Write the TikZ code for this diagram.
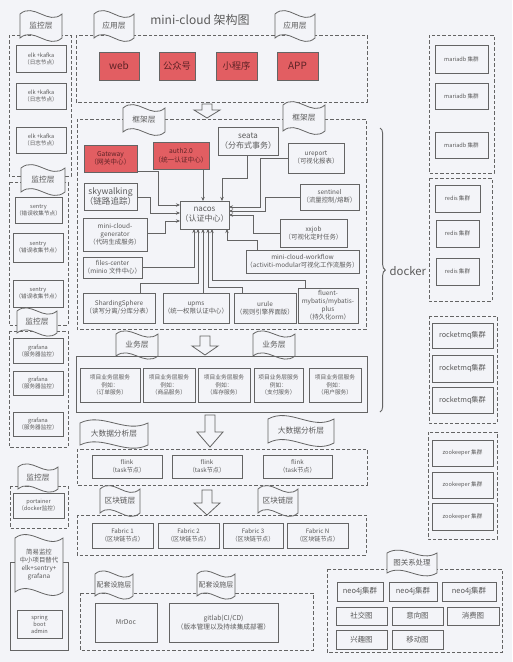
\documentclass[tikz,border=0pt]{standalone}
\usepackage{fontspec}
\setmainfont{Noto Sans CJK SC}
\usetikzlibrary{arrows.meta,decorations.pathreplacing}
\definecolor{bg}{RGB}{243,244,248}
\definecolor{ln}{RGB}{100,100,100}
\definecolor{tx}{RGB}{90,90,90}
\definecolor{redf}{RGB}{226,94,98}
\definecolor{redt}{RGB}{95,35,38}
\newcommand\fsz[1]{\fontsize{#1}{\dimexpr#1pt*5/4\relax}\selectfont}
\tikzset{
 bx/.style={draw=ln, line width=0.7pt, fill=bg, text=tx, align=center, inner sep=0pt, outer sep=0pt},
 rbx/.style={bx, fill=redf, text=redt},
 dbx/.style={draw=ln, line width=0.7pt, dash pattern=on 2.4pt off 1.6pt},
 arr/.style={draw=ln, line width=0.6pt, -{Stealth[length=3pt,width=2.6pt]}},
 fl/.style={draw=ln, line width=0.6pt, fill=bg},
 f1/.style={font=\fsz{4.2}},
 f2/.style={font=\fsz{4.8}},
 f3/.style={font=\fsz{5.8}},
}
\newcommand\mybox[7]{%
 \pgfmathsetmacro\mcx{(#2+#4)/2}\pgfmathsetmacro\mcy{(#3+#5)/2}%
 \pgfmathsetmacro\mww{(#4-#2)*0.75}\pgfmathsetmacro\mhh{(#5-#3)*0.75}%
 \node[#6,minimum width=\mww pt,minimum height=\mhh pt] (#1) at (\mcx,\mcy) {#7};}
\newcommand\flag[7]{%
 \pgfmathsetmacro\fxa{#2-#4/2}\pgfmathsetmacro\fxb{#2+#4/2}%
 \pgfmathsetmacro\fya{#3-#5/2}\pgfmathsetmacro\fyb{#3+#5/2}%
 \pgfmathsetmacro\fxc{#2-#4/6}\pgfmathsetmacro\fxd{#2+#4/6}%
 \pgfmathsetmacro\fam{min(#5*0.5,12)}%
 \pgfmathsetmacro\fyau{\fya-\fam}\pgfmathsetmacro\fyad{\fya+\fam}%
 \pgfmathsetmacro\fybu{\fyb-\fam}\pgfmathsetmacro\fybd{\fyb+\fam}%
 \draw[fl] (\fxa,\fya) .. controls (\fxc,\fyau) and (\fxd,\fyad) .. (\fxb,\fya) -- (\fxb,\fyb) .. controls (\fxd,\fybd) and (\fxc,\fybu) .. (\fxa,\fyb) -- cycle;
 \node[text=tx,font=\fsz{#6},align=center,inner sep=0pt] (#1) at (#2,#3) {#7};}
\newcommand\harrow[5]{%
 \pgfmathsetmacro\hl{#2-5}\pgfmathsetmacro\hr{#2+5}%
 \pgfmathsetmacro\hL{#2-13}\pgfmathsetmacro\hR{#2+13}%
 \draw[fl] (\hl,#3) -- (\hr,#3) -- (\hr,#5) -- (\hR,#5) -- (#2,#4) -- (\hL,#5) -- (\hl,#5) -- cycle;
 \coordinate (#1) at (#2,#4);}
\begin{document}
\begin{tikzpicture}[x=0.75pt,y=-0.75pt]
\fill[bg] (0,0) rectangle (512,662);
\useasboundingbox (0,0) rectangle (512,662);

% ---------- title
\node[text=tx,font=\fsz{9}] (title) at (200,20) {mini-cloud 架构图};

% ---------- left column
\draw[dbx] (9,35) rectangle (71,176);
\flag{fA}{41}{26}{42}{24}{5.8}{监控层}
\mybox{elk1}{16}{45}{66}{72}{bx,f1}{elk +kafka\\（日志节点）}
\mybox{elk2}{16}{83}{66}{109}{bx,f1}{elk +kafka\\（日志节点）}
\mybox{elk3}{16}{127}{66}{153}{bx,f1}{elk +kafka\\（日志节点）}

\draw[dbx] (9,182) rectangle (68,325);
\flag{fB}{43}{180}{44}{24}{5.8}{监控层}
\mybox{sen1}{15}{197}{62}{223}{bx,f1}{sentry\\（错误收集节点）}
\mybox{sen2}{13}{233}{63}{262}{bx,f1}{sentry\\（错误收集节点）}
\mybox{sen3}{13}{280}{63}{307}{bx,f1}{sentry\\（错误收集节点）}

\draw[dbx] (9,331) rectangle (68,447);
\flag{fC}{37}{322}{40}{22}{5.8}{监控层}
\mybox{gra1}{13}{338}{63}{363}{bx,f1}{grafana\\（服务器监控）}
\mybox{gra2}{13}{371}{63}{395}{bx,f1}{grafana\\（服务器监控）}
\mybox{gra3}{13}{412}{63}{436}{bx,f1}{grafana\\（服务器监控）}

\draw[dbx] (10,486) rectangle (68,528);
\flag{fD}{38}{478}{40}{22}{5.8}{监控层}
\mybox{port}{13}{493}{64}{518}{bx,f1}{portainer\\（docker监控）}

\draw[ln,line width=0.6pt] (10,562) rectangle (68,650);
\flag{fE}{39}{565}{48}{54}{4.8}{简易监控\\中小项目替代\\elk+sentry+\\grafana}
\mybox{sba}{17}{610}{62}{638}{bx,f1}{spring\\boot\\admin}

% ---------- application layer
\draw[dbx] (76,35) rectangle (367,102);
\flag{fApp1}{114}{26}{40}{24}{5.8}{应用层}
\flag{fApp2}{295}{26}{40}{24}{5.8}{应用层}
\mybox{web}{99}{52}{139}{80}{rbx,font=\fsz{7.5}}{web}
\mybox{gzh}{159}{52}{195}{80}{rbx,font=\fsz{7}}{公众号}
\mybox{xcx}{216}{52}{257}{80}{rbx,font=\fsz{7}}{小程序}
\mybox{app}{277}{52}{318}{80}{rbx,font=\fsz{7.5}}{APP}
\harrow{ha1}{207}{104}{118}{110}

% ---------- framework layer
\draw[dbx] (77,119) rectangle (366,329);
\flag{fFw1}{144}{120}{42}{24}{5.8}{框架层}
\flag{fFw2}{304}{118}{42}{26}{5.8}{框架层}
\mybox{gw}{84}{145}{137}{172}{rbx,font=\fsz{5}}{Gateway\\（网关中心）}
\mybox{auth}{153}{142}{209}{169}{rbx,font=\fsz{5}}{auth2.0\\（统一认证中心）}
\mybox{seata}{218}{127}{278}{155}{bx,font=\fsz{6}}{seata\\（分布式事务）}
\mybox{ureport}{288}{143}{344}{173}{bx,f2}{ureport\\（可视化报表）}
\mybox{sentinel}{300}{184}{359}{210}{bx,f2}{sentinel\\（流量控制/熔断）}
\mybox{xxjob}{280}{219}{347}{247}{bx,f2}{xxjob\\（可视化定时任务）}
\mybox{nacos}{180}{201}{229}{229}{bx,font=\fsz{6}}{nacos\\（认证中心）}
\mybox{sky}{84}{183}{137}{210}{bx,font=\fsz{6.4}}{skywalking\\（链路追踪）}
\mybox{gen}{83}{218}{147}{251}{bx,f2}{mini-cloud-\\generator\\（代码生成服务）}
\mybox{files}{83}{257}{142}{278}{bx,f2}{files-center\\（minio 文件中心）}
\mybox{workflow}{246}{250}{359}{273}{bx,f2}{mini-cloud-workflow\\（activiti-modular可视化工作流服务）}
\mybox{shard}{83}{293}{155}{323}{bx,f2}{ShardingSphere\\（读写分离/分库分表）}
\mybox{upms}{163}{293}{229}{323}{bx,f2}{upms\\（统一权限认证中心）}
\mybox{urule}{234}{293}{296}{323}{bx,f2}{urule\\（规则引擎界面版）}
\mybox{fluent}{298}{288}{358}{323}{bx,f2}{fluent-\\mybatis/mybatis-\\plus\\（持久化orm）}

\draw[arr] (gw.east |- 0,171) -- (158,171) |- (nacos.west |- 0,205);
\draw[arr] (sky.east |- 0,197) -| (150,213) -- (nacos.west |- 0,213);
\draw[arr] (gen.east |- 0,233) -| (165,221) -- (nacos.west |- 0,221);
\draw[arr] (auth.south -| 203,0) -- (nacos.north -| 203,0);
\draw[arr] (seata.south -| 247,0) |- (222,178) -- (nacos.north -| 222,0);
\draw[arr] (ureport.west |- 0,158) -| (260,207) -- (nacos.east |- 0,207);
\draw[arr] (sentinel.west |- 0,197) -| (265,211) -- (nacos.east |- 0,211);
\draw[arr] (xxjob.west |- 0,233) -| (253,215) -- (nacos.east |- 0,215);
\draw[arr] (workflow.north -| 257,0) |- (227,240) -- (nacos.south -| 227,0);
\draw[arr] (fluent.north -| 305,0) |- (212,280) -- (nacos.south -| 212,0);
\draw[arr] (urule.north -| 242,0) |- (208,287) -- (nacos.south -| 208,0);
\draw[arr] (upms.north -| 203,0) -- (nacos.south -| 203,0);
\draw[arr] (shard.north -| 140,0) |- (198,283) -- (nacos.south -| 198,0);
\draw[arr] (files.east |- 0,267) -| (nacos.south -| 194,0);

% ---------- docker brace
\draw[ln,line width=0.7pt,decorate,decoration={brace,amplitude=4pt}] (380,128) -- (380,412);
\node[text=tx,font=\fsz{8.5},anchor=west] (docker) at (385,271) {docker};

% ---------- business layer
\harrow{ha2}{205}{336}{355}{346}
\flag{fBiz1}{137}{345}{42}{22}{5.8}{业务层}
\flag{fBiz2}{274}{345}{42}{22}{5.8}{业务层}
\draw[ln,line width=0.7pt] (76,356) rectangle (367,412);
\mybox{b1}{80}{368}{140}{402}{bx,font=\fsz{4.3}}{项目业务层服务\\例如：\\（订单服务）}
\mybox{b2}{143}{368}{195}{402}{bx,font=\fsz{4.3}}{项目业务层服务\\例如：\\（商品服务）}
\mybox{b3}{198}{368}{250}{402}{bx,font=\fsz{4.3}}{项目业务层服务\\例如：\\（库存服务）}
\mybox{b4}{254}{368}{303}{402}{bx,font=\fsz{4.3}}{项目业务层服务\\例如：\\（支付服务）}
\mybox{b5}{309}{368}{361}{402}{bx,font=\fsz{4.3}}{项目业务层服务\\例如：\\（用户服务）}

% ---------- big data layer
\harrow{ha3}{210}{415}{447}{432}
\flag{fBd1}{114}{434}{68}{22}{5.8}{大数据分析层}
\flag{fBd2}{301}{431}{66}{24}{5.8}{大数据分析层}
\draw[dbx] (77,449) rectangle (367,485);
\mybox{fk1}{92}{455}{162}{478}{bx,font=\fsz{4.6}}{flink\\（task节点）}
\mybox{fk2}{172}{455}{242}{478}{bx,font=\fsz{4.6}}{flink\\（task节点）}
\mybox{fk3}{263}{455}{332}{478}{bx,font=\fsz{4.6}}{flink\\（task节点）}

% ---------- blockchain layer
\harrow{ha4}{207}{490}{515}{503}
\flag{fBc1}{120}{501}{40}{24}{5.8}{区块链层}
\flag{fBc2}{278}{501}{40}{24}{5.8}{区块链层}
\draw[dbx] (77,515) rectangle (366,555);
\mybox{fa1}{92}{523}{153}{548}{bx,font=\fsz{4.6}}{Fabric 1\\（区块链节点）}
\mybox{fa2}{158}{523}{219}{548}{bx,font=\fsz{4.6}}{Fabric 2\\（区块链节点）}
\mybox{fa3}{223}{523}{283}{548}{bx,font=\fsz{4.6}}{Fabric 3\\（区块链节点）}
\mybox{fa4}{287}{523}{348}{548}{bx,font=\fsz{4.6}}{Fabric N\\（区块链节点）}

% ---------- support layer
\draw[dbx] (80,593) rectangle (313,650);
\flag{fSu1}{114}{585}{38}{22}{5.2}{配套设施层}
\flag{fSu2}{216}{585}{38}{22}{5.2}{配套设施层}
\mybox{mrdoc}{95}{603}{157}{642}{bx,font=\fsz{5}}{MrDoc}
\mybox{gitlab}{169}{603}{278}{642}{bx,font=\fsz{5}}{gitlab(CI/CD)\\（版本管理以及持续集成部署）}

% ---------- graph layer
\draw[dbx] (327,569) rectangle (502,652);
\flag{fGr}{412}{563}{50}{20}{5.6}{图关系处理}
\mybox{n1}{337}{582}{383}{601}{bx,font=\fsz{5.6}}{neo4j集群}
\mybox{n2}{389}{582}{437}{601}{bx,font=\fsz{5.6}}{neo4j集群}
\mybox{n3}{442}{582}{496}{601}{bx,font=\fsz{5.6}}{neo4j集群}
\mybox{g1}{336}{607}{387}{625}{bx,font=\fsz{5.6}}{社交图}
\mybox{g2}{392}{607}{443}{625}{bx,font=\fsz{5.6}}{意向图}
\mybox{g3}{447}{607}{499}{625}{bx,font=\fsz{5.6}}{消费图}
\mybox{g4}{336}{630}{387}{649}{bx,font=\fsz{5.6}}{兴趣图}
\mybox{g5}{392}{630}{443}{649}{bx,font=\fsz{5.6}}{移动图}

% ---------- right column
\draw[dbx] (429,35) rectangle (494,173);
\mybox{m1}{435}{45}{488}{73}{bx,f1}{mariadb 集群}
\mybox{m2}{435}{83}{488}{109}{bx,f1}{mariadb 集群}
\mybox{m3}{435}{132}{488}{158}{bx,f1}{mariadb 集群}
\draw[dbx] (429,178) rectangle (492,301);
\mybox{r1}{435}{185}{480}{212}{bx,f1}{redis 集群}
\mybox{r2}{436}{220}{479}{247}{bx,f1}{redis 集群}
\mybox{r3}{436}{258}{479}{285}{bx,f1}{redis 集群}
\draw[dbx] (429,316) rectangle (497,423);
\mybox{q1}{432}{323}{493}{348}{bx,font=\fsz{5.4}}{rocketmq集群}
\mybox{q2}{432}{355}{493}{382}{bx,font=\fsz{5.4}}{rocketmq集群}
\mybox{q3}{432}{387}{493}{413}{bx,font=\fsz{5.4}}{rocketmq集群}
\draw[dbx] (428,432) rectangle (497,539);
\mybox{z1}{432}{440}{493}{466}{bx,f1}{zookeeper 集群}
\mybox{z2}{432}{472}{493}{498}{bx,f1}{zookeeper 集群}
\mybox{z3}{432}{503}{493}{530}{bx,f1}{zookeeper 集群}
\end{tikzpicture}
\end{document}
